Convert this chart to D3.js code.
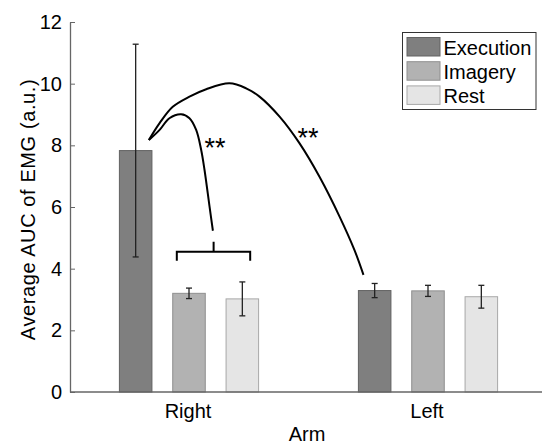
<!DOCTYPE html>
<html>
<head>
<meta charset="utf-8">
<script src="https://cdn.jsdelivr.net/npm/d3@7"></script>
<style>
  html, body { margin: 0; padding: 0; background: #fff; }
  svg { display: block; font-family: "Liberation Sans", Arial, sans-serif; }
</style>
</head>
<body>
<div id="chart"></div>
<script>
const width = 542;
const height = 445;

// data
const arms = ["Right", "Left"];
const conditions = ["Execution", "Imagery", "Rest"];
const meanAUC = {
  Right: [7.83, 3.20, 3.02],
  Left: [3.29, 3.28, 3.09]
};
const errAUC = {
  Right: [3.45, 0.17, 0.55],
  Left: [0.23, 0.18, 0.37]
};
const yTicks = [0, 2, 4, 6, 8, 10, 12];

// significance annotations, in data units (arm position, AUC)
const curveLong = [
  [0.832, 8.17], [0.877, 8.72], [0.932, 9.25], [1.002, 9.58], [1.072, 9.82],
  [1.169, 10.01], [1.239, 9.85], [1.295, 9.58], [1.379, 8.93], [1.462, 8.07],
  [1.546, 6.98], [1.630, 5.69], [1.692, 4.61], [1.730, 3.80]
];
const curveShort = [
  [0.832, 8.17], [0.877, 8.50], [0.918, 8.88], [0.967, 9.01], [1.002, 8.88],
  [1.030, 8.50], [1.051, 7.85], [1.065, 7.20], [1.086, 6.01], [1.100, 5.23]
];
const bracket = [
  [0.949, 4.26], [0.949, 4.55], [1.103, 4.55], [1.103, 4.87], [1.103, 4.55],
  [1.256, 4.55], [1.256, 4.26]
];
const stars = [
  { x: 1.109, y: 7.62, label: "**" },
  { x: 1.498, y: 7.94, label: "**" }
];

const color = d3.scaleOrdinal()
  .domain(conditions)
  .range(["#7f7f7f", "#b2b2b2", "#e5e5e5"]);
const edge = d3.scaleOrdinal()
  .domain(conditions)
  .range(["#626262", "#8f8f8f", "#a8a8a8"]);

const x = d3.scaleLinear().domain([0.5, 2.5]).range([69.5, 547.5]);
const xInner = d3.scaleBand()
  .domain(conditions)
  .range([-80, 80])
  .paddingInner(0.39)
  .paddingOuter(0.195);
const y = d3.scaleLinear().domain([0, 12]).range([392, 22]);

const svg = d3.select("#chart")
  .append("svg")
  .attr("width", width)
  .attr("height", height)
  .style("font-size", "20px");

// bars
const group = svg.selectAll("g.arm")
  .data(arms)
  .enter()
  .append("g")
  .attr("class", "arm")
  .attr("transform", function(d, i) {
    return "translate(" + x(i + 1) + ",0)";
  });

group.selectAll("rect")
  .data(function(a) {
    return conditions.map(function(c, j) {
      return { cond: c, value: meanAUC[a][j], err: errAUC[a][j] };
    });
  })
  .enter()
  .append("rect")
  .attr("x", function(d) { return xInner(d.cond); })
  .attr("y", function(d) { return y(d.value); })
  .attr("width", xInner.bandwidth())
  .attr("height", function(d) { return y(0) - y(d.value); })
  .attr("fill", function(d) { return color(d.cond); })
  .attr("stroke", function(d) { return edge(d.cond); })
  .attr("stroke-width", 1);

// error bars
const eb = group.selectAll("g.err")
  .data(function(a) {
    return conditions.map(function(c, j) {
      return { cond: c, value: meanAUC[a][j], err: errAUC[a][j] };
    });
  })
  .enter()
  .append("g")
  .attr("class", "err")
  .attr("stroke", "#222")
  .attr("stroke-width", 1.3)
  .attr("transform", function(d) {
    return "translate(" + (xInner(d.cond) + xInner.bandwidth() / 2) + ",0)";
  });

eb.append("line")
  .attr("y1", function(d) { return y(d.value - d.err); })
  .attr("y2", function(d) { return y(d.value + d.err); });
eb.append("line")
  .attr("x1", -3).attr("x2", 3)
  .attr("y1", function(d) { return y(d.value - d.err); })
  .attr("y2", function(d) { return y(d.value - d.err); });
eb.append("line")
  .attr("x1", -3).attr("x2", 3)
  .attr("y1", function(d) { return y(d.value + d.err); })
  .attr("y2", function(d) { return y(d.value + d.err); });

// axes
const yAxis = svg.append("g")
  .attr("transform", "translate(70,0)")
  .call(d3.axisLeft(y).tickValues(yTicks).tickSizeInner(-5).tickSizeOuter(0).tickPadding(8));
yAxis.selectAll("text").style("font-size", "20px").attr("fill", "#000");
yAxis.selectAll("line").attr("stroke", "#666");
yAxis.select(".domain").attr("stroke", "#666").attr("stroke-width", 1.3);

svg.append("line")
  .attr("x1", 70).attr("x2", width)
  .attr("y1", y(0)).attr("y2", y(0))
  .attr("stroke", "#666")
  .attr("stroke-width", 1.3);

svg.selectAll("text.armlabel")
  .data(arms)
  .enter()
  .append("text")
  .attr("class", "armlabel")
  .attr("x", function(d, i) { return x(i + 1) - 1; })
  .attr("y", 418)
  .attr("text-anchor", "middle")
  .text(function(d) { return d; });

svg.append("text")
  .attr("x", 307)
  .attr("y", 441)
  .attr("text-anchor", "middle")
  .text("Arm");

svg.append("text")
  .attr("transform", "translate(35," + 209.5 + ") rotate(-90)")
  .attr("text-anchor", "middle")
  .style("letter-spacing", "0.6px")
  .text("Average AUC of EMG (a.u.)");

// annotations
const line = d3.line()
  .x(function(d) { return x(d[0]); })
  .y(function(d) { return y(d[1]); });

[curveLong, curveShort].forEach(function(pts) {
  svg.append("path")
    .attr("d", line.curve(d3.curveCatmullRom)(pts))
    .attr("fill", "none")
    .attr("stroke", "#000")
    .attr("stroke-width", 2);
});

svg.append("path")
  .attr("d", line.curve(d3.curveLinear)(bracket))
  .attr("fill", "none")
  .attr("stroke", "#000")
  .attr("stroke-width", 2);

svg.selectAll("text.star")
  .data(stars)
  .enter()
  .append("text")
  .attr("class", "star")
  .attr("x", function(d) { return x(d.x); })
  .attr("y", function(d) { return y(d.y); })
  .attr("text-anchor", "middle")
  .style("font-size", "27px")
  .text(function(d) { return d.label; });

// legend
const legend = svg.append("g").attr("transform", "translate(402.5,32.5)");
legend.append("rect")
  .attr("width", 133.5)
  .attr("height", 77)
  .attr("fill", "#fff")
  .attr("stroke", "#333")
  .attr("stroke-width", 1);

const item = legend.selectAll("g.item")
  .data(conditions)
  .enter()
  .append("g")
  .attr("class", "item")
  .attr("transform", function(d, i) {
    return "translate(4.5," + (5 + i * 24.2) + ")";
  });
item.append("rect")
  .attr("width", 33)
  .attr("height", 18.5)
  .attr("fill", function(d) { return color(d); })
  .attr("stroke", function(d) { return edge(d); });
item.append("text")
  .attr("x", 36.5)
  .attr("y", 17.5)
  .text(function(d) { return d; });
</script>
</body>
</html>
